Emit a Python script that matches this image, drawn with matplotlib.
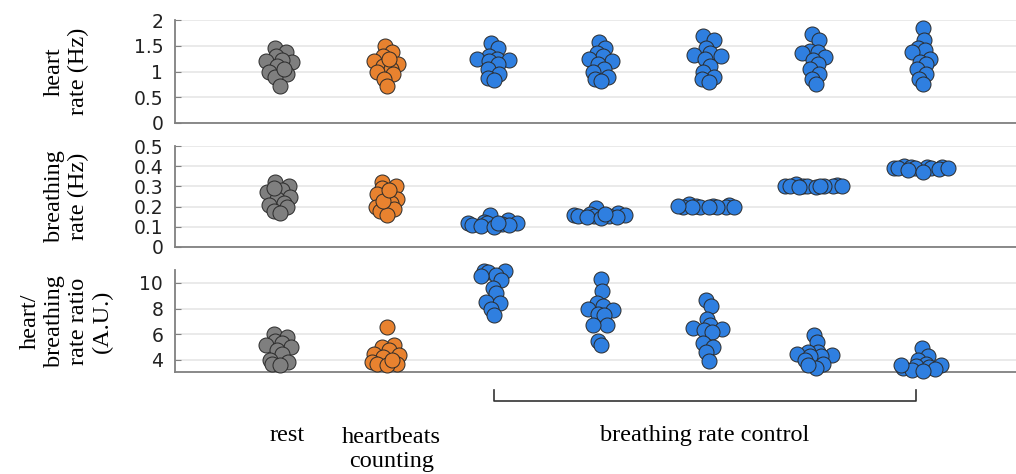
import numpy as np
import matplotlib.pyplot as plt
from matplotlib import ticker
from matplotlib.transforms import blended_transform_factory

# groups: rest, heartbeats counting, 5 breathing rate control conditions
group_x = [1, 2, 3, 4, 5, 6, 7]
group_colors = ['#7f7f7f', '#e8822f'] + ['#2f7fe0'] * 5

heart_rate = [
    [1.45, 1.38, 1.30, 1.20, 1.18, 1.22, 1.10, 1.00, 0.95, 0.90, 0.72, 1.05],
    [1.50, 1.38, 1.30, 1.20, 1.15, 1.10, 1.05, 1.00, 0.95, 0.85, 0.72, 1.25],
    [1.55, 1.45, 1.30, 1.25, 1.24, 1.22, 1.20, 1.15, 1.05, 0.95, 0.88, 0.83],
    [1.58, 1.45, 1.35, 1.30, 1.25, 1.20, 1.15, 1.05, 1.00, 0.90, 0.85, 0.82],
    [1.68, 1.62, 1.45, 1.35, 1.32, 1.30, 1.25, 1.10, 1.00, 0.90, 0.85, 0.80],
    [1.72, 1.62, 1.40, 1.38, 1.35, 1.28, 1.22, 1.15, 1.05, 0.95, 0.85, 0.75],
    [1.84, 1.62, 1.45, 1.42, 1.38, 1.25, 1.18, 1.15, 1.05, 0.95, 0.85, 0.76],
]

breathing_rate = [
    [0.32, 0.30, 0.28, 0.27, 0.25, 0.24, 0.22, 0.21, 0.20, 0.18, 0.17, 0.29],
    [0.32, 0.30, 0.29, 0.26, 0.24, 0.22, 0.20, 0.19, 0.18, 0.16, 0.23, 0.28],
    [0.160, 0.135, 0.125, 0.120, 0.120, 0.120, 0.115, 0.110, 0.110, 0.105, 0.100, 0.120],
    [0.195, 0.170, 0.165, 0.160, 0.158, 0.155, 0.155, 0.152, 0.150, 0.148, 0.145, 0.162],
    [0.212, 0.208, 0.205, 0.203, 0.200, 0.200, 0.200, 0.200, 0.200, 0.198, 0.196, 0.202],
    [0.310, 0.305, 0.303, 0.302, 0.300, 0.300, 0.300, 0.300, 0.300, 0.298, 0.295, 0.302],
    [0.400, 0.398, 0.395, 0.395, 0.393, 0.390, 0.390, 0.390, 0.385, 0.380, 0.370, 0.392],
]

rate_ratio = [
    [6.0, 5.8, 5.5, 5.3, 5.2, 5.0, 4.8, 4.5, 4.0, 3.8, 3.7, 3.6],
    [6.6, 5.2, 5.0, 4.8, 4.5, 4.4, 4.2, 3.8, 3.7, 3.7, 3.6, 4.0],
    [10.95, 10.9, 10.85, 10.6, 10.5, 10.2, 9.6, 9.2, 8.5, 8.4, 8.0, 7.5],
    [10.3, 9.4, 8.4, 8.2, 8.0, 7.9, 7.6, 7.5, 6.7, 6.7, 5.5, 5.2],
    [8.65, 8.2, 7.2, 6.7, 6.5, 6.4, 6.3, 6.2, 5.3, 5.0, 4.6, 3.95],
    [5.95, 5.4, 4.6, 4.6, 4.5, 4.4, 4.3, 4.3, 4.0, 3.65, 3.4, 3.6],
    [4.9, 4.3, 4.0, 3.7, 3.6, 3.5, 3.45, 3.4, 3.3, 3.2, 3.15, 3.6],
]

panel_labels = ['heart\nrate (Hz)', 'breathing\nrate (Hz)', 'heart/\nbreathing\nrate ratio\n(A.U.)']
panel_ticks = [[0, 0.5, 1, 1.5, 2], [0, 0.1, 0.2, 0.3, 0.4, 0.5], [4, 6, 8, 10]]
panel_ylim = [(0, 2), (0, 0.5), (3.06, 11.0)]
cond_labels = ['rest', 'heartbeats\ncounting', 'breathing rate control']

serif = ['Liberation Serif', 'DejaVu Serif']

fig = plt.figure(figsize=(10.16, 4.74), dpi=100)
W, H = 1016, 474
rows = [(20, 123), (146, 247), (270, 372)]
axes = [fig.add_axes([175 / W, 1 - b / H, 841 / W, (b - t) / H]) for t, b in rows]


def vdc(k):
    # van der Corput sequence, base 2
    v, den = 0.0, 1.0
    while k:
        den *= 2
        k, r = divmod(k, 2)
        v += r / den
    return v


def swarm_x(ax, xc, vals, h=3.0, c=10.6):
    # density scaled spread (like a swarm chart), computed in pixels
    n = len(vals)
    pts = ax.transData.transform(np.column_stack([np.full(n, float(xc)), vals]))
    py = pts[:, 1]
    dy = py[:, None] - py[None, :]
    dens = np.exp(-0.5 * (dy / h) ** 2).sum(axis=1)
    w = c * np.sqrt(np.maximum(dens - 1, 0))
    order = np.argsort(py, kind='stable')
    m = np.empty(n)
    for rank, i in enumerate(order):
        m[i] = 2 * vdc(rank + 1) - 1
    xs = pts[:, 0] + w * m
    return ax.transData.inverted().transform(np.column_stack([xs, py]))[:, 0]


datasets = [heart_rate, breathing_rate, rate_ratio]
for ax, data, lab, ticks, ylim in zip(axes, datasets, panel_labels, panel_ticks, panel_ylim):
    ax.set_xlim(0.02, 7.87)
    ax.set_ylim(*ylim)
    ax.set_yticks(ticks)
    ax.yaxis.set_major_formatter(ticker.FuncFormatter(lambda v, p: '{:g}'.format(v)))
    ax.set_xticks([])
    for s in ['top', 'right']:
        ax.spines[s].set_visible(False)
    for s in ['left', 'bottom']:
        ax.spines[s].set_color('#808080')
        ax.spines[s].set_linewidth(1.3)
    ax.tick_params(axis='y', direction='in', length=4, color='#808080',
                   labelsize=13.5, pad=8.5, labelcolor='#222222')
    ax.yaxis.grid(True, color='#e6e6e6', lw=1.2)
    ax.set_axisbelow(True)
    for xc, vals, col in zip(group_x, data, group_colors):
        xs = swarm_x(ax, xc, vals)
        ax.scatter(xs, vals, s=117, color=col, edgecolors='#2a2a2a',
                   linewidths=0.7, zorder=3, clip_on=False)
    ax.text(-0.129, 0.5, lab, transform=ax.transAxes, rotation=90,
            ha='center', va='center', multialignment='center',
            family=serif, fontsize=17.5, linespacing=1.2)

ax3 = axes[2]
tr = blended_transform_factory(ax3.transData, ax3.transAxes)
ax3.plot([3, 3, 6.94, 6.94], [-0.176, -0.281, -0.281, -0.176], transform=tr,
         color='#333333', lw=1.2, clip_on=False)

ax3.text(1.07, -0.618, cond_labels[0], transform=tr, ha='center', va='center',
         family=serif, fontsize=17.5)
ax3.text(2.04, -0.76, cond_labels[1], transform=tr, ha='center', va='center',
         family=serif, fontsize=17.5, linespacing=1.2)
ax3.text(4.96, -0.618, cond_labels[2], transform=tr, ha='center', va='center',
         family=serif, fontsize=17.5)

fig.savefig('out.png', dpi=100)
